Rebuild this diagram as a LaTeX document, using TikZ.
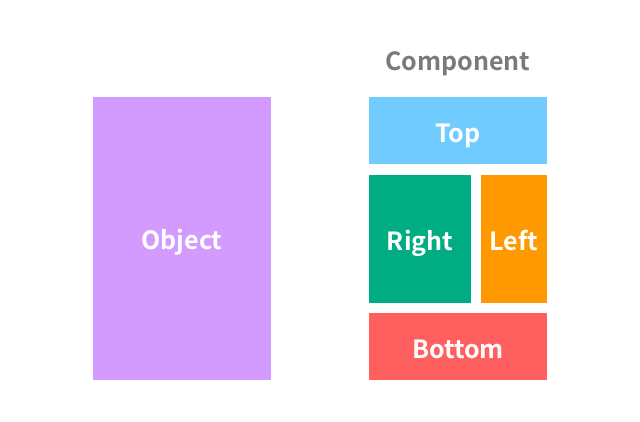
\documentclass[tikz,border=0pt]{standalone}
\usepackage{fontspec}
\setmainfont{Noto Sans CJK SC}[BoldFont={Noto Sans CJK SC Bold}]
\usepackage{tikz}

\definecolor{objpurple}{HTML}{D49BFF}
\definecolor{topblue}{HTML}{70CCFF}
\definecolor{rightgreen}{HTML}{00AC82}
\definecolor{leftorange}{HTML}{FF9900}
\definecolor{bottomred}{HTML}{FF5F5F}
\definecolor{labelgray}{HTML}{7A7A7A}

\begin{document}
\begin{tikzpicture}[x=1pt,y=-1pt,
	part/.style={shape=rectangle,inner sep=0pt,text=white,
		text height=23pt,text depth=0pt,
		font=\fontsize{25}{30}\selectfont\bfseries}]
	
	\useasboundingbox (0,0) rectangle (640,422);
	
	\node[part,fill=objpurple,minimum width=178pt,minimum height=283pt] (object) at (182, 238.5) {Object};
	\node[anchor=base,inner sep=0pt,text=labelgray,font=\fontsize{25}{30}\selectfont\bfseries] (component) at (458, 71) {Component};
	\node[part,fill=topblue,minimum width=178pt,minimum height=67pt] (top) at (458, 131) {Top};
	\node[part,fill=rightgreen,minimum width=102pt,minimum height=127pt] (right) at (420, 239) {Right};
	\node[part,fill=leftorange,minimum width=66pt,minimum height=127pt] (left) at (514, 239) {Left};
	\node[part,fill=bottomred,minimum width=178pt,minimum height=67pt] (bottom) at (458, 346.5) {Bottom};
	
\end{tikzpicture}
\end{document}
